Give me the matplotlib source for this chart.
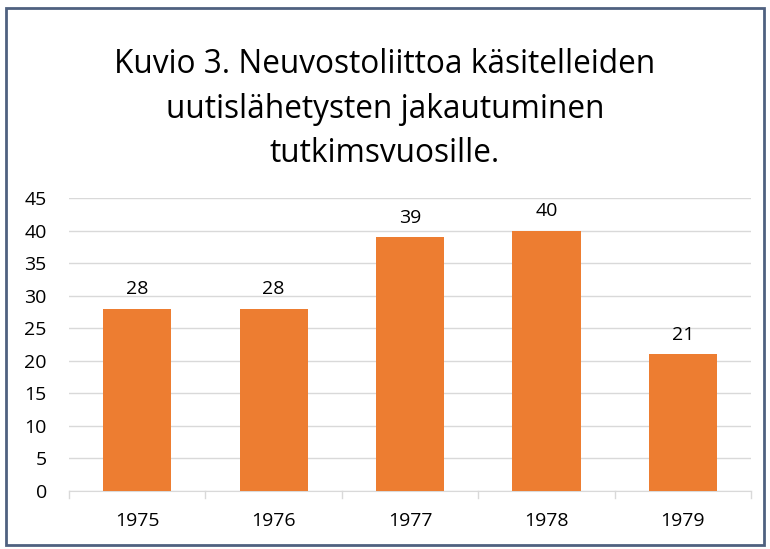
import matplotlib
matplotlib.use("Agg")
import matplotlib.pyplot as plt
from matplotlib.patches import Rectangle

years = ["1975", "1976", "1977", "1978", "1979"]
counts = [28, 28, 39, 40, 21]
title = "Kuvio 3. Neuvostoliittoa käsitelleiden\nuutislähetysten jakautuminen\ntutkimsvuosille."

plt.rcParams['font.family'] = ['Open Sans', 'DejaVu Sans']

W, H = 770, 549
fig = plt.figure(figsize=(W/100, H/100), dpi=100)

# outer border
fig.patches.append(Rectangle((6/W, 4/H), (764-6)/W, (543-6)/H, transform=fig.transFigure,
                             fill=False, edgecolor='#4f6180', linewidth=2))

ax = fig.add_axes([69/W, 1-491/H, (751-69)/W, (491-198)/H])
x = range(len(years))
bars = ax.bar(x, counts, width=0.5, color='#ed7d31', zorder=3)
for xi, v in zip(x, counts):
    ax.text(xi, v + 1.6, str(v), ha='center', va='bottom', fontsize=14, color='#000000')

ax.set_xlim(-0.5, len(years) - 0.5)
ax.set_ylim(0, 45)
ax.set_yticks(range(0, 46, 5))
ax.set_xticks(list(x))
ax.set_xticklabels(years)
ax.grid(axis='y', color='#d9d9d9', linewidth=1, zorder=0)
for s in ['top', 'right', 'left']:
    ax.spines[s].set_visible(False)
ax.spines['bottom'].set_color('#d9d9d9')
ax.tick_params(axis='y', length=0, labelsize=14, pad=16)
ax.tick_params(axis='x', length=0, labelsize=14, pad=15)
for b in [i - 0.5 for i in range(len(years) + 1)]:
    ax.plot([b, b], [0, -1.1], color='#d9d9d9', linewidth=1, clip_on=False)

fig.text(0.5, 1-109/H, title, ha='center', va='center', fontsize=22.8,
         linespacing=1.45, color='#000000')

fig.savefig("out.png", dpi=100)
